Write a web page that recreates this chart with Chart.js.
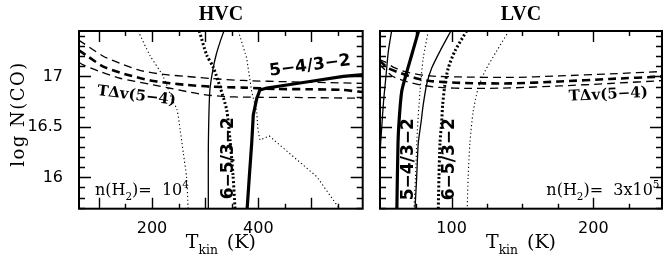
<!DOCTYPE html>
<html>
<head>
<meta charset="utf-8">
<script src="https://cdn.jsdelivr.net/npm/chart.js@4.4.0/dist/chart.umd.min.js"></script>
<style>
  html, body { margin: 0; padding: 0; background: #fff; }
  #wrap { position: relative; width: 664px; height: 259px; overflow: hidden; }
  #hvc { position: absolute; left: 0; top: 0; }
  #lvc { position: absolute; left: 370px; top: 0; }
</style>
</head>
<body>
<div id="wrap">
  <canvas id="hvc" width="372" height="259"></canvas>
  <canvas id="lvc" width="294" height="259"></canvas>
</div>
<script>
// axis ranges
const yMin = 15.69, yMax = 17.45;
const hvcMin = 62.7, hvcMax = 596.4;
const lvcMin = 49.5, lvcMax = 248.4;

// tick values
const yLabelTicks = [16, 16.5, 17];
const yAllTicks = [15.7, 15.8, 15.9, 16, 16.1, 16.2, 16.3, 16.4, 16.5, 16.6, 16.7, 16.8, 16.9, 17, 17.1, 17.2, 17.3, 17.4];
const hvcLabelTicks = [200, 400];
const hvcAllTicks = [100, 150, 200, 250, 300, 350, 400, 450, 500, 550];
const hvcMajorTicks = [100, 200, 300, 400, 500];
const lvcLabelTicks = [100, 200];
const lvcAllTicks = [75, 100, 125, 150, 175, 200, 225];
const lvcMajorTicks = [100, 200];

// ---- HVC panel (n(H2)=1e4) ----
const hvcRatio54T = [379, 383, 387.6, 390.6, 397, 403, 416, 435, 497, 560, 600];
const hvcRatio54N = [15.69, 16.0, 16.34, 16.62, 16.78, 16.865, 16.885, 16.9, 16.95, 17.0, 17.02];

const hvcRatio54bT = [306, 306, 307, 309, 315, 321, 328, 336];
const hvcRatio54bN = [15.69, 16.3, 16.6, 16.87, 17.08, 17.22, 17.34, 17.46];

const hvcRatio65T = [289, 303, 315, 328, 340.5, 346.8, 352.4, 356.2];
const hvcRatio65N = [17.45, 17.21, 17.094, 16.896, 16.668, 16.371, 16.025, 15.69];

const hvcDotAT = [174, 196, 221, 238, 247, 253, 259, 265, 268];
const hvcDotAN = [17.45, 17.21, 17.0, 16.77, 16.67, 16.47, 16.24, 16.0, 15.69];

const hvcDotBT = [362.4, 378.2, 387.6, 397, 399.4, 403.2, 420.7, 465.8, 509.9, 547.5, 552];
const hvcDotBN = [17.45, 17.18, 16.85, 16.65, 16.47, 16.37, 16.41, 16.206, 16.008, 15.728, 15.69];

const hvcDashUpT = [62, 70.7, 108.4, 139.8, 177.4, 221.3, 265.3, 309.1, 371.8, 465.8, 560, 600];
const hvcDashUpN = [17.36, 17.33, 17.2, 17.13, 17.06, 17.02, 17.0, 16.98, 16.96, 16.946, 16.936, 16.93];

const hvcDashMidT = [62, 80, 108.4, 139.8, 171.2, 202.4, 233.9, 265.3, 309.1, 371.8, 434.6, 497.3, 560, 588, 600];
const hvcDashMidN = [17.26, 17.196, 17.097, 17.038, 16.992, 16.955, 16.933, 16.916, 16.899, 16.889, 16.876, 16.873, 16.866, 16.85, 16.845];

const hvcDashLoT = [62, 70.7, 102.2, 139.8, 202.4, 233.9, 265.3, 296.5, 340, 371.8, 465.8, 600];
const hvcDashLoN = [17.14, 17.114, 17.048, 16.982, 16.916, 16.883, 16.85, 16.82, 16.8, 16.795, 16.792, 16.784];

// ---- LVC panel (n(H2)=3e5) ----
const lvcEdgeT = [57.7, 55.4, 53.7, 52, 50.5, 49.3];
const lvcEdgeN = [17.45, 17.25, 17.0, 16.75, 16.45, 16.2];

const lvcRatio54T = [76.7, 71.8, 67.1, 64.8, 63.1, 62.2, 61.4];
const lvcRatio54N = [17.45, 17.21, 16.98, 16.85, 16.59, 16.34, 15.69];

const lvcRatio54bT = [99.5, 91.8, 85.9, 82.4, 80, 78.5, 76.5, 75.4, 74.2];
const lvcRatio54bN = [17.45, 17.25, 17.08, 16.92, 16.72, 16.55, 16.34, 16.01, 15.69];

const lvcDotAT = [83.6, 80, 77.7, 75.8, 74.5, 73.5];
const lvcDotAN = [17.45, 17.18, 16.85, 16.45, 16.0, 15.69];

const lvcRatio65T = [110.6, 102.3, 97.6, 95.3, 93.7, 93, 91.8, 91.1, 90.6];
const lvcRatio65N = [17.45, 17.25, 17.08, 16.92, 16.72, 16.55, 16.34, 16.01, 15.69];

const lvcDotBT = [140.4, 131.7, 123.5, 118.7, 115.2, 112.9, 111.7, 111];
const lvcDotBN = [17.45, 17.25, 17.05, 16.88, 16.65, 16.34, 16.01, 15.69];

const lvcDashUpT = [49, 53, 60, 70.6, 84.7, 105.8, 141.1, 176.3, 211.5, 250];
const lvcDashUpN = [17.17, 17.144, 17.084, 17.035, 17.005, 16.995, 16.99, 17.005, 17.025, 17.05];

const lvcDashMidT = [49, 55, 63.6, 74.1, 84.7, 105.8, 141.1, 176.3, 211.5, 250];
const lvcDashMidN = [17.16, 17.084, 17.035, 16.985, 16.955, 16.936, 16.931, 16.95, 16.975, 17.0];

const lvcDashLoT = [49, 58, 67.1, 77.7, 91.8, 112.9, 141.1, 176.3, 211.5, 250];
const lvcDashLoN = [17.12, 17.005, 16.955, 16.916, 16.891, 16.881, 16.886, 16.906, 16.93, 16.96];

function pts(t, n) {
    return t.map((v, i) => ({x: v, y: n[i]}));
}

const thinSolid = {borderWidth: 1.3, borderDash: [], tension: 0.25};
const thickSolid = {borderWidth: 3.2, borderDash: [], tension: 0.25};
const thickDot = {borderWidth: 3, borderDash: [2, 2.2], tension: 0.25};
const thinDot = {borderWidth: 1.1, borderDash: [1.2, 2.6], tension: 0.25};
const thinDash = {borderWidth: 1.3, borderDash: [8, 5], tension: 0.25};
const thickDash = {borderWidth: 2.6, borderDash: [8, 5], tension: 0.25};

function line(t, n, style, extra) {
    return Object.assign({
        data: pts(t, n),
        showLine: true,
        borderColor: '#000',
        pointRadius: 0,
        fill: false
    }, style, extra || {});
}

const serif = '"DejaVu Serif", serif';
const sans = '"DejaVu Sans", sans-serif';

// draws pieces of text: [text, 'n'|'sub'|'sup', extra gap]
function richWidth(ctx, parts, size, family, weight) {
    let w = 0;
    parts.forEach(p => {
        const s = p[1] === 'n' ? size : size * 0.65;
        ctx.font = weight + ' ' + s + 'px ' + family;
        w += ctx.measureText(p[0]).width + (p[2] || 0);
    });
    return w;
}
function drawRich(ctx, parts, x, y, size, family, weight) {
    let cx = x;
    parts.forEach(p => {
        const s = p[1] === 'n' ? size : size * 0.65;
        ctx.font = weight + ' ' + s + 'px ' + family;
        let dy = 0;
        if (p[1] === 'sub') dy = size * 0.3;
        if (p[1] === 'sup') dy = -size * 0.45;
        ctx.fillText(p[0], cx, y + dy);
        cx += ctx.measureText(p[0]).width + (p[2] || 0);
    });
}

function decorPlugin(cfg) {
    return {
        id: 'decor',
        afterDraw(chart) {
            const {ctx, chartArea: a, scales: {x, y}} = chart;
            ctx.save();
            // frame
            ctx.strokeStyle = '#000';
            ctx.lineWidth = 2;
            ctx.strokeRect(a.left, a.top, a.right - a.left, a.bottom - a.top);
            // inward ticks
            ctx.lineWidth = 1.4;
            ctx.beginPath();
            cfg.xTicks.forEach(v => {
                const px = Math.round(x.getPixelForValue(v)) + 0.5;
                const len = cfg.xMajor.includes(v) ? 11 : 5;
                ctx.moveTo(px, a.bottom); ctx.lineTo(px, a.bottom - len);
                ctx.moveTo(px, a.top); ctx.lineTo(px, a.top + len);
            });
            yAllTicks.forEach(v => {
                const py = Math.round(y.getPixelForValue(v)) + 0.5;
                const len = yLabelTicks.includes(v) ? 12 : 6;
                ctx.moveTo(a.left, py); ctx.lineTo(a.left + len, py);
                ctx.moveTo(a.right, py); ctx.lineTo(a.right - len, py);
            });
            ctx.stroke();

            ctx.fillStyle = '#000';
            const cx = (a.left + a.right) / 2;
            // panel title
            ctx.font = 'bold 20px "Liberation Serif", serif';
            ctx.textAlign = 'center';
            ctx.textBaseline = 'alphabetic';
            ctx.fillText(cfg.title, cx, 20);

            // x title T_kin (K)
            ctx.textAlign = 'left';
            const xt = [['T', 'n', 0], ['kin', 'sub', 9], ['(K)', 'n', 0]];
            const w = richWidth(ctx, xt, 19, serif, 'normal');
            drawRich(ctx, xt, cx - w / 2, 248, 19, serif, 'normal');

            // y title
            if (cfg.yTitle) {
                ctx.save();
                ctx.translate(19, 114);
                ctx.rotate(-Math.PI / 2);
                ctx.font = '18px ' + serif;
                ctx.textAlign = 'center';
                ctx.textBaseline = 'middle';
                if ('letterSpacing' in ctx) ctx.letterSpacing = '1.5px';
                ctx.fillText('log N(CO)', 0, 0);
                ctx.restore();
            }

            // annotations
            cfg.labels.forEach(l => {
                const px = x.getPixelForValue(l.t);
                const py = y.getPixelForValue(l.n);
                ctx.save();
                ctx.translate(px, py);
                ctx.rotate(l.rot * Math.PI / 180);
                ctx.font = l.font;
                ctx.textAlign = 'center';
                ctx.textBaseline = 'middle';
                ctx.fillText(l.text, 0, 0);
                ctx.restore();
            });

            // density note
            const nw = richWidth(ctx, cfg.density.parts, 16, serif, 'normal');
            const nx = x.getPixelForValue(cfg.density.t);
            const start = cfg.density.align === 'right' ? nx - nw : nx;
            ctx.textAlign = 'left';
            ctx.textBaseline = 'alphabetic';
            drawRich(ctx, cfg.density.parts, start, y.getPixelForValue(cfg.density.n), 16, serif, 'normal');
            ctx.restore();
        }
    };
}

function makePanel(id, datasets, xMin, xMax, xLabels, padding, showY, cfg) {
    return new Chart(document.getElementById(id), {
        type: 'scatter',
        data: {datasets: datasets},
        options: {
            responsive: false,
            animation: false,
            events: [],
            layout: {padding: padding},
            plugins: {
                legend: {display: false},
                tooltip: {enabled: false},
                title: {display: false}
            },
            scales: {
                x: {
                    type: 'linear',
                    min: xMin,
                    max: xMax,
                    grid: {display: false, drawTicks: false},
                    border: {display: false},
                    ticks: {
                        color: '#000',
                        font: {family: sans, size: 16},
                        padding: 11,
                        maxRotation: 0,
                        autoSkip: false,
                        callback: v => String(v)
                    },
                    afterBuildTicks: s => { s.ticks = xLabels.map(v => ({value: v})); },
                    afterFit: s => { s.height = 50.3; }
                },
                y: {
                    type: 'linear',
                    display: showY,
                    min: yMin,
                    max: yMax,
                    grid: {display: false, drawTicks: false},
                    border: {display: false},
                    ticks: {
                        color: '#000',
                        font: {family: sans, size: 16},
                        padding: 16,
                        autoSkip: false,
                        callback: v => String(v)
                    },
                    afterBuildTicks: s => { s.ticks = yLabelTicks.map(v => ({value: v})); },
                    afterFit: s => { s.width = showY ? 79 : 0; }
                }
            }
        },
        plugins: [decorPlugin(cfg)]
    });
}

const boldSans = 'bold 17px ' + sans;
const boldSerif = 'bold 15px ' + serif;

makePanel('hvc', [
    line(hvcRatio54T, hvcRatio54N, thickSolid, {tension: 0}),
    line(hvcRatio54bT, hvcRatio54bN, thinSolid),
    line(hvcRatio65T, hvcRatio65N, thickDot),
    line(hvcDotAT, hvcDotAN, thinDot),
    line(hvcDotBT, hvcDotBN, thinDot, {tension: 0}),
    line(hvcDashUpT, hvcDashUpN, thinDash),
    line(hvcDashMidT, hvcDashMidN, thickDash),
    line(hvcDashLoT, hvcDashLoN, thinDash)
], hvcMin, hvcMax, hvcLabelTicks, {top: 31, left: 0, right: 9.3, bottom: 0}, true, {
    title: 'HVC',
    xTicks: hvcAllTicks,
    xMajor: hvcMajorTicks,
    yTitle: true,
    labels: [
        {text: 'T\u0394v(5\u22124)', t: 170.8, n: 16.807, rot: 7, font: boldSerif},
        {text: '5\u22124/3\u22122', t: 497.3, n: 17.104, rot: -7.5, font: boldSans},
        {text: '6\u22125/3\u22122', t: 344.9, n: 16.19, rot: -90, font: boldSans}
    ],
    density: {t: 92.8, n: 15.827, align: 'left',
        parts: [['n(H', 'n'], ['2', 'sub'], [')=  10', 'n'], ['4', 'sup']]}
});

makePanel('lvc', [
    line(lvcEdgeT, lvcEdgeN, thinSolid),
    line(lvcRatio54T, lvcRatio54N, thickSolid),
    line(lvcRatio54bT, lvcRatio54bN, thinSolid),
    line(lvcDotAT, lvcDotAN, thinDot),
    line(lvcRatio65T, lvcRatio65N, thickDot),
    line(lvcDotBT, lvcDotBN, thinDot),
    line(lvcDashUpT, lvcDashUpN, thinDash),
    line(lvcDashMidT, lvcDashMidN, thickDash),
    line(lvcDashLoT, lvcDashLoN, thinDash)
], lvcMin, lvcMax, lvcLabelTicks, {top: 31, left: 10, right: 2, bottom: 0}, false, {
    title: 'LVC',
    xTicks: lvcAllTicks,
    xMajor: lvcMajorTicks,
    yTitle: false,
    labels: [
        {text: 'T\u0394v(5\u22124)', t: 210.5, n: 16.817, rot: -3, font: boldSerif},
        {text: '5\u22124/3\u22122', t: 69.9, n: 16.18, rot: -90, font: boldSans},
        {text: '6\u22125/3\u22122', t: 98.8, n: 16.18, rot: -90, font: boldSans}
    ],
    density: {t: 246.6, n: 15.827, align: 'right',
        parts: [['n(H', 'n'], ['2', 'sub'], [')=  3x10', 'n'], ['5', 'sup']]}
});
</script>
</body>
</html>
